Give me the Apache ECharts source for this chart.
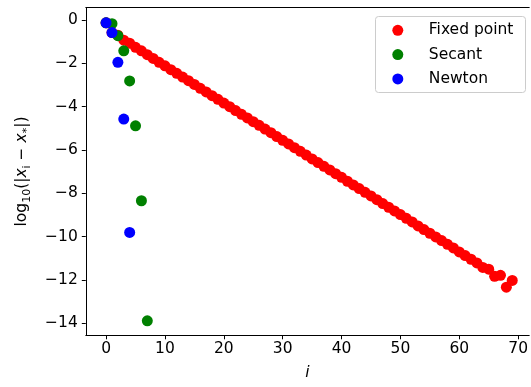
<!DOCTYPE html>
<html>
<head>
<meta charset="utf-8">
<script src="https://cdn.jsdelivr.net/npm/echarts@6/dist/echarts.min.js"></script>
<style>html,body{margin:0;padding:0;background:#fff;}#c{width:531px;height:387px;}</style>
</head>
<body>
<div id="c"></div>
<script>
var seriesNames = ['Fixed point', 'Secant', 'Newton'];
var seriesColors = ['#ff0000', '#008000', '#0000ff'];
var fixedPoint = [
  -0.13, -0.58, -0.70, -0.93, -1.07, -1.26, -1.42, -1.60, -1.77, -1.95,
  -2.11, -2.29, -2.46, -2.63, -2.80, -2.97, -3.15, -3.32, -3.49, -3.66,
  -3.83, -4.00, -4.18, -4.35, -4.52, -4.69, -4.86, -5.03, -5.20, -5.38,
  -5.55, -5.72, -5.89, -6.06, -6.23, -6.41, -6.58, -6.75, -6.92, -7.09,
  -7.26, -7.44, -7.61, -7.78, -7.95, -8.12, -8.29, -8.47, -8.64, -8.81,
  -8.98, -9.15, -9.32, -9.50, -9.67, -9.84, -10.01, -10.18, -10.35, -10.52,
  -10.70, -10.87, -11.04, -11.21, -11.42, -11.50, -11.83, -11.78, -12.33, -12.02
];
var secant = [-0.13, -0.17, -0.72, -1.42, -2.81, -4.88, -8.34, -13.88];
var newton = [-0.13, -0.58, -1.95, -4.57, -9.80];
var xTicks = [0, 10, 20, 30, 40, 50, 60, 70];
var yTicks = [-14, -12, -10, -8, -6, -4, -2, 0];

function toPairs(arr) { return arr.map(function (v, i) { return [i, v]; }); }
var allData = [fixedPoint, secant, newton];

var FONT = 'DejaVu Sans';
var chart = echarts.init(document.getElementById('c'), null, { renderer: 'canvas' });
chart.setOption({
  animation: false,
  backgroundColor: '#fff',
  textStyle: { fontFamily: FONT },
  grid: { left: 85.8, right: 0, top: 7.7, bottom: 51.7, show: false },
  xAxis: [{
    type: 'value', min: -3.45, max: 71.88,
    name: 'i', nameLocation: 'middle', nameGap: 30,
    nameTextStyle: { fontFamily: FONT, fontSize: 15.5, fontStyle: 'italic', color: '#000' },
    axisLine: { show: true, onZero: false, lineStyle: { color: '#000', width: 1 } },
    axisTick: { show: true, length: 4, inside: false, lineStyle: { color: '#000', width: 1 }, customValues: xTicks },
    axisLabel: { show: true, margin: 6, fontFamily: FONT, fontSize: 15.5, color: '#000', customValues: xTicks },
    splitLine: { show: false }
  }, {
    type: 'value', position: 'top', min: -3.45, max: 71.88,
    axisLine: { show: true, onZero: false, lineStyle: { color: '#000', width: 1 } },
    axisTick: { show: false }, axisLabel: { show: false }, splitLine: { show: false }
  }],
  yAxis: {
    type: 'value', min: -14.55, max: 0.57,
    name: '{a|log}{s|10}{a|(|}{i|x}{s|i}{a| − }{i|x}{s|*}{a||)}',
    nameLocation: 'middle', nameGap: 53.5, nameRotate: 90,
    nameTextStyle: {
      color: '#000',
      rich: {
        a: { fontFamily: FONT, fontSize: 15.5, lineHeight: 20, color: '#000', verticalAlign: 'middle' },
        i: { fontFamily: FONT, fontSize: 15.5, fontStyle: 'italic', lineHeight: 20, color: '#000', verticalAlign: 'middle' },
        s: { fontFamily: FONT, fontSize: 11, lineHeight: 11, color: '#000', verticalAlign: 'bottom' }
      }
    },
    axisLine: { show: true, onZero: false, lineStyle: { color: '#000', width: 1 } },
    axisTick: { show: true, length: 4, inside: false, lineStyle: { color: '#000', width: 1 }, customValues: yTicks },
    axisLabel: {
      show: true, margin: 8, fontFamily: FONT, fontSize: 15.5, color: '#000', customValues: yTicks,
      formatter: function (v) { return v < 0 ? '\u2212' + (-v) : String(v); }
    },
    splitLine: { show: false }
  },
  legend: {
    orient: 'vertical', left: 392.3, top: 21.3, padding: 0, itemGap: 6.3,
    itemWidth: 50, itemHeight: 11, icon: 'circle',
    formatter: '{t|{name}}',
    textStyle: { fontFamily: FONT, fontSize: 15.5, color: '#000', lineHeight: 18,
      rich: { t: { fontFamily: FONT, fontSize: 15.5, color: '#000', lineHeight: 18, padding: [0, 0, 0, 1] } } },
    data: seriesNames
  },
  graphic: [{
    type: 'rect', z: 3, silent: true,
    shape: { x: 375.5, y: 16.5, width: 150, height: 76, r: 3 },
    style: { fill: 'rgba(255,255,255,0.8)', stroke: '#cccccc', lineWidth: 1 }
  }],
  series: seriesNames.map(function (n, k) {
    return {
      name: n, type: 'scatter', symbol: 'circle', symbolSize: 11,
      itemStyle: { color: seriesColors[k], opacity: 1 },
      data: toPairs(allData[k]), z: 2 + k * 0.1
    };
  })
});
</script>
</body>
</html>
